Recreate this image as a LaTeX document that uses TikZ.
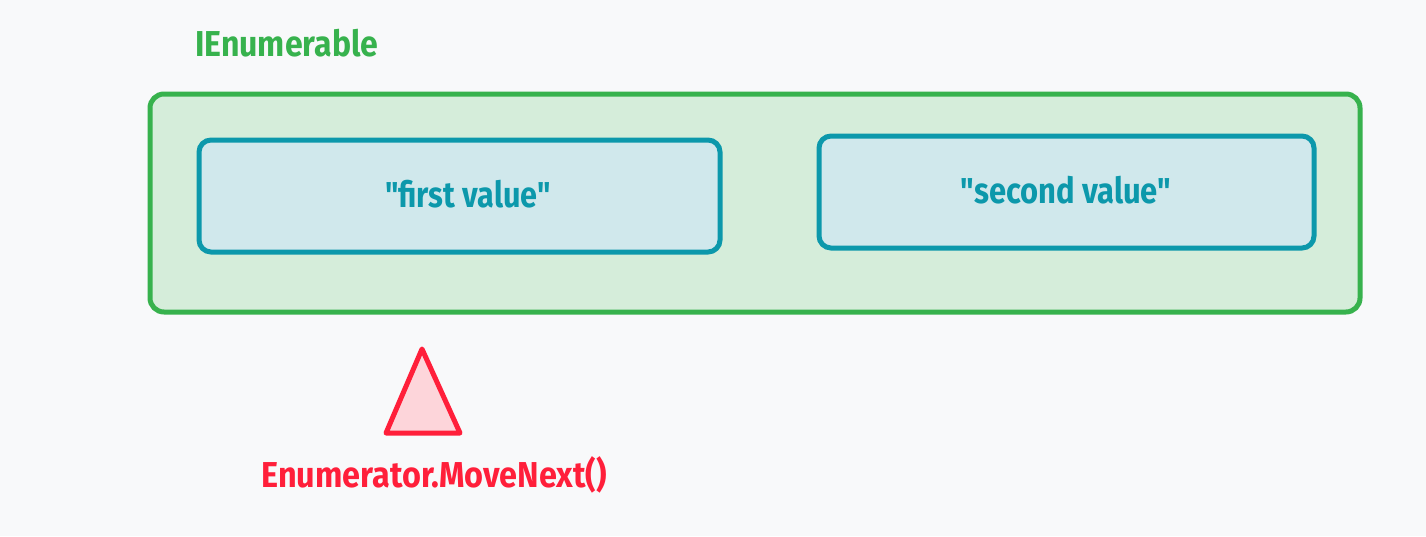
\documentclass[tikz,border=0pt]{standalone}
\usepackage{fontspec}
\usepackage{graphicx}
\setmainfont{Fira Sans}[Ligatures=TeXOff]
\definecolor{bg}{HTML}{F8F9FA}
\definecolor{grn}{HTML}{37B24D}
\definecolor{grnfill}{HTML}{D5EDDA}
\definecolor{teal}{HTML}{0C98AB}
\definecolor{tealfill}{HTML}{D0E8EC}
\definecolor{red}{HTML}{FF1F3A}
\definecolor{redfill}{HTML}{FDD5DA}
\newcommand{\sq}[2]{\scalebox{#1}[1]{#2}}
\begin{document}
\begin{tikzpicture}[x=1pt,y=-1pt,
  outerbox/.style={draw=grn,fill=grnfill,line width=5pt,rounded corners=14pt},
  innerbox/.style={draw=teal,fill=tealfill,line width=5pt,rounded corners=12pt},
  boxtext/.style={text=teal,font=\fontsize{36}{40}\selectfont\bfseries,inner sep=0pt},
  title/.style={text=grn,font=\fontsize{36}{40}\selectfont\bfseries,inner sep=0pt},
  redlabel/.style={text=red,font=\fontsize{36}{40}\selectfont\bfseries,inner sep=0pt},
  marker/.style={draw=red,fill=redfill,line width=5pt,line join=round}]
\useasboundingbox[fill=bg] (0,0) rectangle (1426,536);
\node[title,anchor=west] (t) at (195,43) {\sq{0.89}{IEnumerable}};
\draw[outerbox] (150,94) rectangle (1360,312);
\draw[innerbox] (199,140) rectangle (720,252);
\draw[innerbox] (819,136) rectangle (1314,248);
\node[boxtext] (a) at (468,194) {\sq{0.85}{"first value"}};
\node[boxtext] (b) at (1066,190) {\sq{0.86}{"second value"}};
\coordinate (p1) at (422,349);
\coordinate (p2) at (386,433);
\coordinate (p3) at (460,433);
\draw[marker] (p1) -- (p2) -- (p3) -- cycle;
\node[redlabel] (r) at (434,475) {\sq{0.9}{Enumerator.MoveNext()}};
\end{tikzpicture}
\end{document}
